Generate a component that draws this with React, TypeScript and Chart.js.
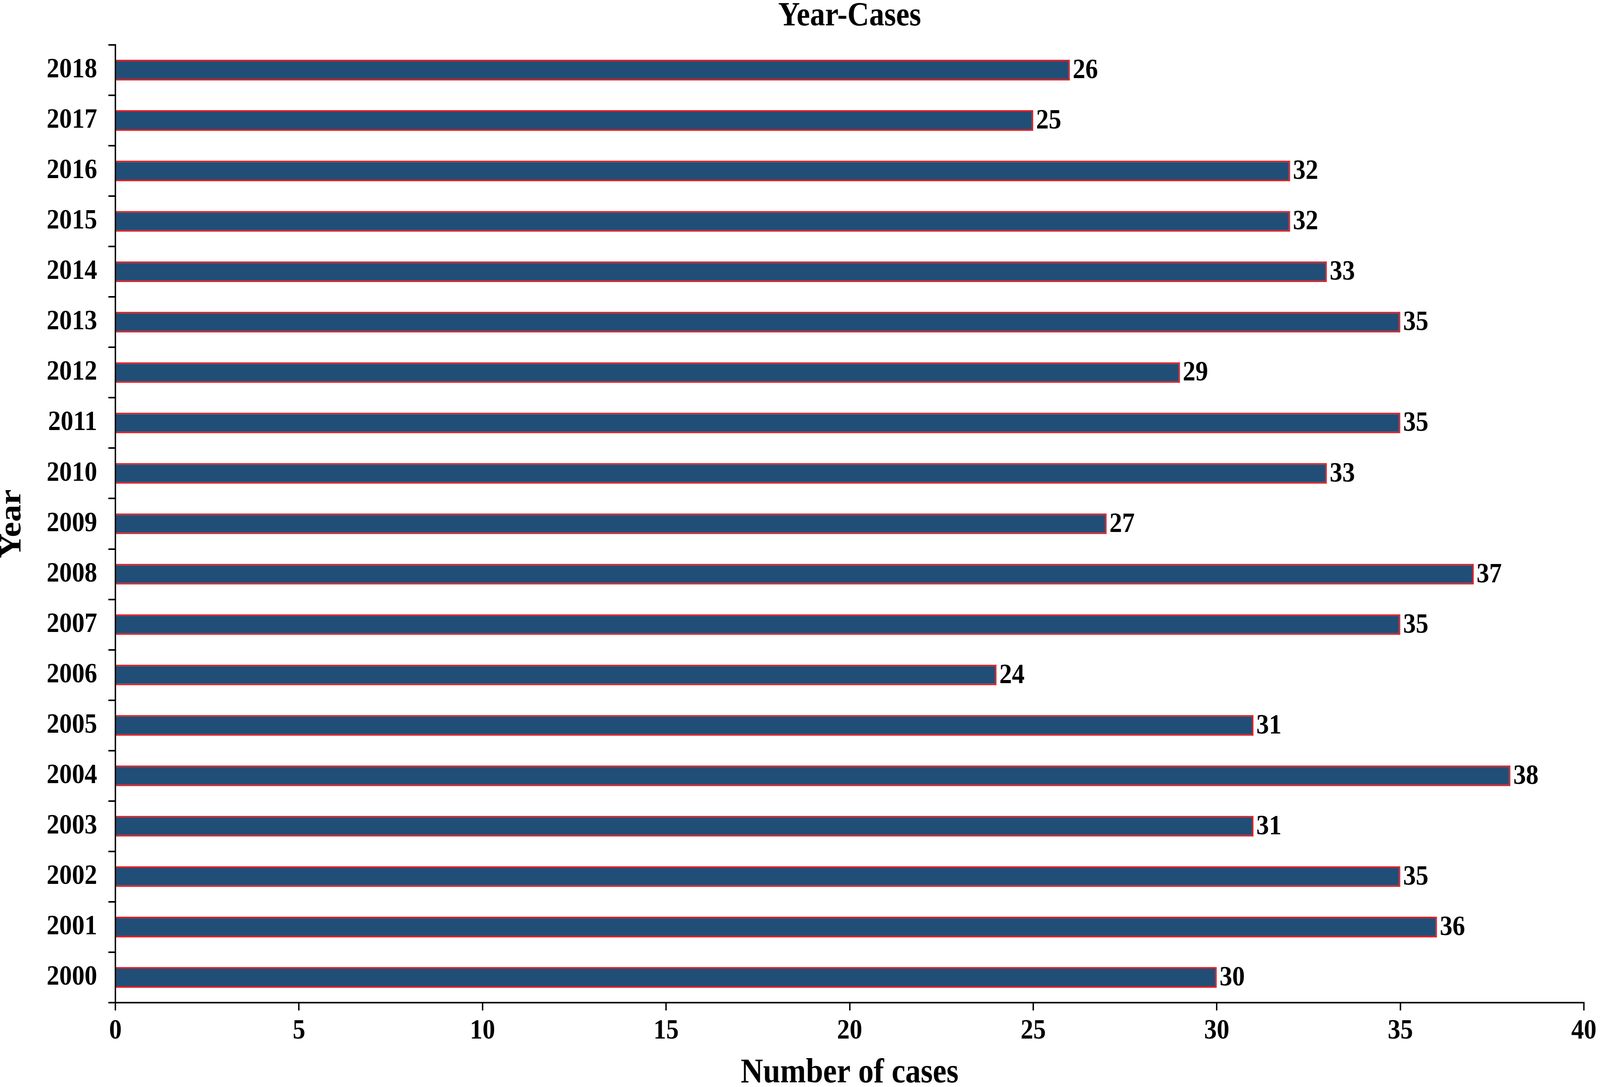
import React, { useEffect, useRef } from "react";
import { Chart, registerables } from "chart.js";

Chart.register(...registerables);

const years: string[] = [
  "2000", "2001", "2002", "2003", "2004", "2005", "2006", "2007", "2008", "2009",
  "2010", "2011", "2012", "2013", "2014", "2015", "2016", "2017", "2018",
];
const cases: number[] = [30, 36, 35, 31, 38, 31, 24, 35, 37, 27, 33, 35, 29, 35, 33, 32, 32, 25, 26];
const xTickMin = 0;
const xTickMax = 40;
const xTickStep = 5;
const chartTitle = "Year-Cases";
const xTitle = "Number of cases";
const yTitle = "Year";

// Design size of the reference; the canvas is scaled to fit the real viewport.
const W = 4562;
const H = 2783;
const FONT = "'Liberation Serif', 'Times New Roman', serif";

const valueLabels = {
  id: "valueLabels",
  afterDatasetsDraw(chart: any) {
    const ctx = chart.ctx;
    const meta = chart.getDatasetMeta(0);
    const data = chart.data.datasets[0].data;
    ctx.save();
    ctx.font = `bold 72px ${FONT}`;
    ctx.fillStyle = "#000";
    ctx.textAlign = "left";
    ctx.textBaseline = "middle";
    meta.data.forEach((el: any, i: number) => {
      ctx.fillText(String(data[i]), el.x + 8, el.y + 2);
    });
    ctx.restore();
  },
};

export default function App() {
  const ref = useRef<HTMLCanvasElement | null>(null);
  const vw = typeof window !== "undefined" ? window.innerWidth || W : W;
  const vh = typeof window !== "undefined" ? window.innerHeight || H : H;
  const sx = Math.min(1, vw / W);
  const sy = Math.min(1, vh / H);

  useEffect(() => {
    if (!ref.current) return;
    const chart = new Chart(ref.current, {
      type: "bar",
      data: {
        labels: years,
        datasets: [
          {
            data: cases,
            backgroundColor: "#214E76",
            borderColor: "#E31E24",
            borderWidth: 4,
            barPercentage: 0.41,
            categoryPercentage: 1,
          },
        ],
      },
      options: {
        indexAxis: "y",
        animation: false,
        responsive: false,
        devicePixelRatio: 1,
        layout: { padding: { left: 0, right: 45, top: 0, bottom: 0 } },
        plugins: {
          legend: { display: false },
          tooltip: { enabled: false },
          title: {
            display: true,
            text: chartTitle,
            fullSize: false,
            color: "#000",
            font: { family: FONT, size: 86, weight: "bold", lineHeight: 1 },
            padding: { top: 0, bottom: 29 },
          },
        },
        scales: {
          x: {
            type: "linear",
            min: xTickMin,
            max: xTickMax,
            afterFit: (s: any) => {
              s.height = 216;
            },
            ticks: {
              stepSize: xTickStep,
              color: "#000",
              padding: 10,
              font: { family: FONT, size: 72, weight: "bold", lineHeight: 1.2 },
            },
            grid: {
              drawOnChartArea: false,
              drawTicks: true,
              tickLength: 20,
              tickWidth: 4,
              tickColor: "#000",
              color: "#000",
              lineWidth: 4,
            },
            border: { display: true, color: "#000", width: 4 },
            title: {
              display: true,
              text: xTitle,
              color: "#000",
              font: { family: FONT, size: 88, weight: "bold", lineHeight: 0.8 },
              padding: 0,
            },
          },
          y: {
            type: "category",
            reverse: true,
            z: 1,
            afterFit: (s: any) => {
              s.width = 329;
            },
            ticks: {
              color: "#000",
              padding: 32,
              font: { family: FONT, size: 72, weight: "bold" },
            },
            grid: {
              offset: true,
              drawOnChartArea: false,
              drawTicks: true,
              tickLength: 20,
              tickWidth: 4,
              tickColor: "#000",
              color: "#000",
              lineWidth: 4,
            },
            border: { display: true, color: "#000", width: 4 },
            title: {
              display: true,
              text: yTitle,
              color: "#000",
              font: { family: FONT, size: 88, weight: "bold", lineHeight: 0.8 },
              padding: 0,
            },
          },
        },
      },
      plugins: [valueLabels],
    } as any);
    return () => chart.destroy();
  }, []);

  return (
    <div
      style={{
        position: "absolute",
        left: 0,
        top: 0,
        width: Math.round(W * sx),
        height: Math.round(H * sy),
        overflow: "hidden",
        background: "#fff",
      }}
    >
      <div
        style={{
          width: W,
          height: H,
          transform: `scale(${sx}, ${sy})`,
          transformOrigin: "0 0",
        }}
      >
        <canvas ref={ref} width={W} height={H} style={{ display: "block", width: W, height: H }} />
      </div>
    </div>
  );
}
